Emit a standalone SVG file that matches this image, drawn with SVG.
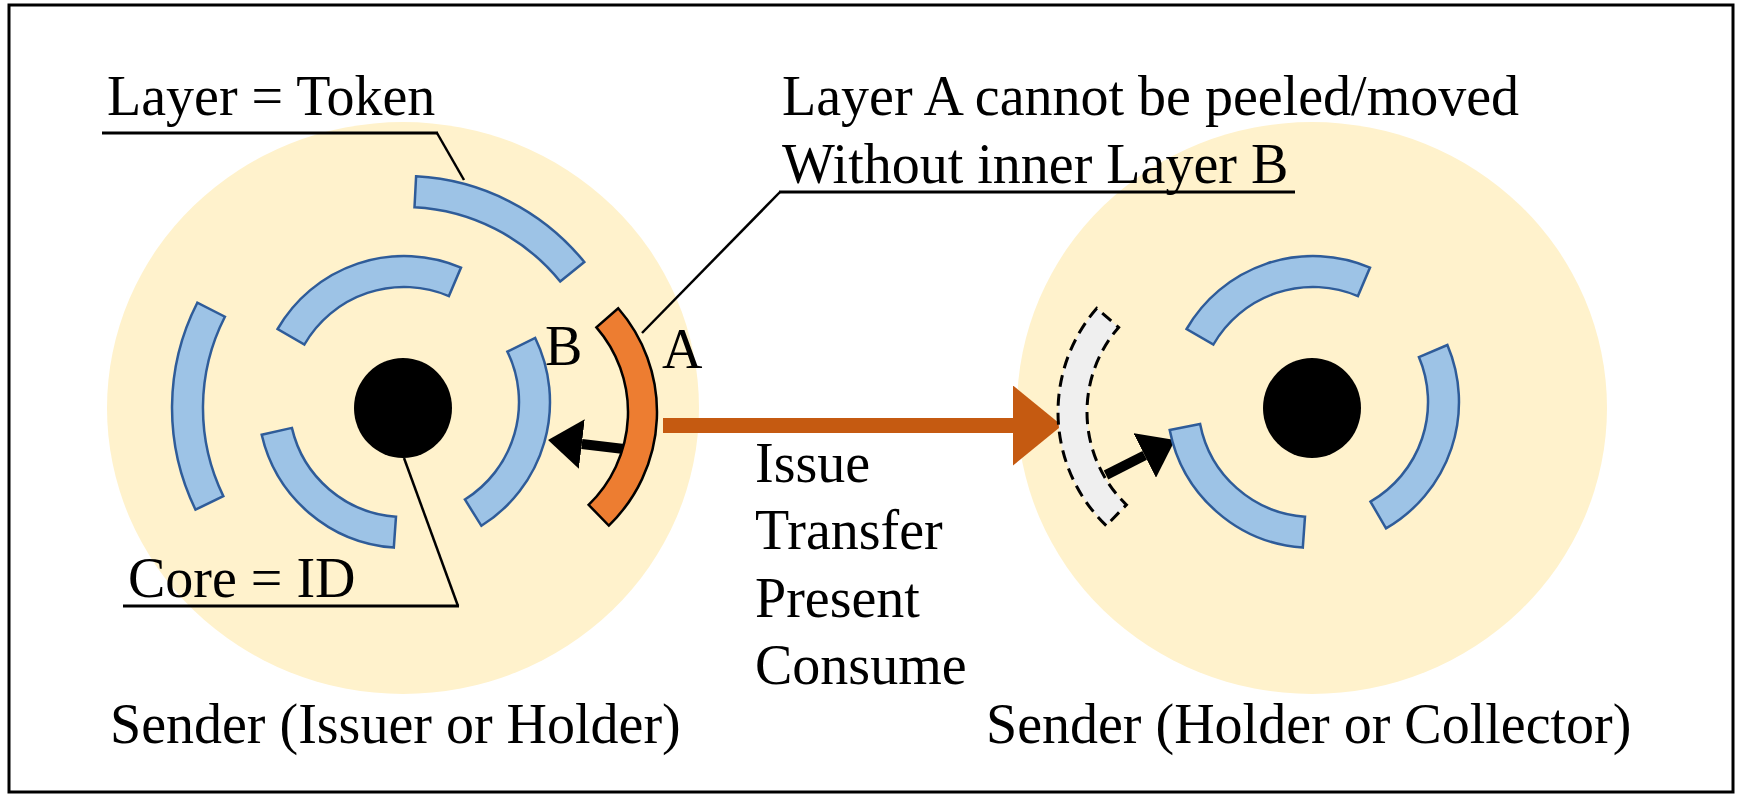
<svg xmlns="http://www.w3.org/2000/svg" width="1738" height="794" viewBox="0 0 1738 794">
<style>
  .bg{fill:#FFF2CC}
  .layer{fill:#9DC3E6;stroke:#2F5C99;stroke-width:2.5;stroke-linejoin:miter}
  .core{fill:#000}
  .tokenA{fill:#ED7D31;stroke:#000;stroke-width:2.5}
  .ghost{fill:#EFEFEF;stroke:#000;stroke-width:3;stroke-dasharray:12 7}
  .lbl{font-size:56px;fill:#000}
  .lead{fill:none;stroke:#000;stroke-width:2.5}
  .uline{fill:none;stroke:#000;stroke-width:3}
  .karrow{stroke:#000;stroke-width:10;fill:none}
  .oarrow{stroke:#C55A11;stroke-width:15;fill:none}
</style>
<defs>
  <marker id="headK" markerUnits="userSpaceOnUse" viewBox="0 0 34 50" markerWidth="34" markerHeight="50" refX="0" refY="25" orient="auto">
    <path d="M0,0 L34,25 L0,50 Z" fill="#000"/>
  </marker>
  <marker id="headO" markerUnits="userSpaceOnUse" viewBox="0 0 49 80" markerWidth="49" markerHeight="80" refX="0" refY="40" orient="auto">
    <path d="M0,0 L49,40 L0,80 Z" fill="#C55A11"/>
  </marker>
</defs>

<rect x="9" y="5" width="1724" height="787" fill="#fff" stroke="#000" stroke-width="3"/>

<g font-family="Liberation Serif, Times New Roman, DejaVu Serif, serif">
<g id="sender-left">
  <ellipse class="bg" cx="403" cy="408" rx="296" ry="286"/>
  <text class="lbl" x="110" y="743">Sender (Issuer or Holder)</text>
</g>
<g id="sender-right">
  <ellipse class="bg" cx="1312" cy="408" rx="295" ry="286"/>
  <text class="lbl" x="986" y="743">Sender (Holder or Collector)</text>
</g>

<g id="connectors">
  <line class="oarrow" x1="663" y1="425.5" x2="1013" y2="425.5" marker-end="url(#headO)"/>
  <line class="karrow" x1="624" y1="449" x2="581.8" y2="444" marker-end="url(#headK)"/>
  <line class="karrow" x1="1106" y1="475" x2="1144.7" y2="455.4" marker-end="url(#headK)"/>
  <polyline class="lead" points="464,180 437,133"/>
  <line class="uline" x1="102" y1="133" x2="438" y2="133"/>
  <polyline class="lead" points="642,333 780,192"/>
  <line class="uline" x1="779" y1="192" x2="1295" y2="192"/>
  <polyline class="lead" points="404,458 458,606"/>
  <line class="uline" x1="123" y1="606" x2="459" y2="606"/>
</g>

<g id="left-layers">
  <path class="layer" d="M416.1,176.3 A232,232 0 0 1 584.3,262 L560.2,281.5 A201,201 0 0 0 414.5,207.3 Z"/>
  <path class="layer" d="M195.5,509.7 A232,232 0 0 1 197.3,302.7 L224.9,316.7 A201,201 0 0 0 223.3,496.1 Z"/>
  <path class="layer" d="M277.6,329 A146,146 0 0 1 461,267.6 L448.9,296.1 A115,115 0 0 0 304.4,344.5 Z"/>
  <path class="layer" d="M393.8,547.6 A146,146 0 0 1 261.7,434.8 L291.9,427.9 A115,115 0 0 0 396,516.7 Z"/>
</g>
<g id="layer-B">
  <path class="layer" d="M535.2,338 A146,146 0 0 1 481.4,525.8 L464.9,499.5 A115,115 0 0 0 507.4,351.6 Z"/>
  <text class="lbl" x="545" y="365">B</text>
</g>
<g id="layer-A">
  <path class="tokenA" d="M618.2,308.3 A158,158 0 0 1 608.8,525.6 L588.6,504.8 A129,129 0 0 0 596.4,327.4 Z"/>
  <text class="lbl" x="662" y="368">A</text>
</g>
<g id="core-left">
  <ellipse class="core" cx="403" cy="408" rx="49" ry="50"/>
</g>

<g id="ghost-layer">
  <path class="ghost" d="M1106.2,525.6 A158,158 0 0 1 1096.8,308.3 L1118.6,327.4 A129,129 0 0 0 1126.4,504.8 Z"/>
</g>
<g id="right-layers">
  <path class="layer" d="M1186.6,329 A146,146 0 0 1 1370,267.6 L1357.9,296.1 A115,115 0 0 0 1213.4,344.5 Z"/>
  <path class="layer" d="M1302.8,547.6 A146,146 0 0 1 1169.7,429.9 L1200.1,423.9 A115,115 0 0 0 1305,516.7 Z"/>
  <path class="layer" d="M1447.4,345 A146,146 0 0 1 1386,528.4 L1370.5,501.6 A115,115 0 0 0 1418.9,357.1 Z"/>
</g>
<g id="core-right">
  <ellipse class="core" cx="1312" cy="408" rx="49" ry="50"/>
</g>

<g id="labels">
  <text class="lbl" x="107" y="115">Layer = Token</text>
  <text class="lbl" x="782" y="115">Layer A cannot be peeled/moved</text>
  <text class="lbl" x="782" y="183">Without inner Layer B</text>
  <text class="lbl" x="128" y="597">Core = ID</text>
  <text class="lbl" x="755" y="482">Issue</text>
  <text class="lbl" x="755" y="549">Transfer</text>
  <text class="lbl" x="755" y="617">Present</text>
  <text class="lbl" x="755" y="684">Consume</text>
</g>
</g>
</svg>
